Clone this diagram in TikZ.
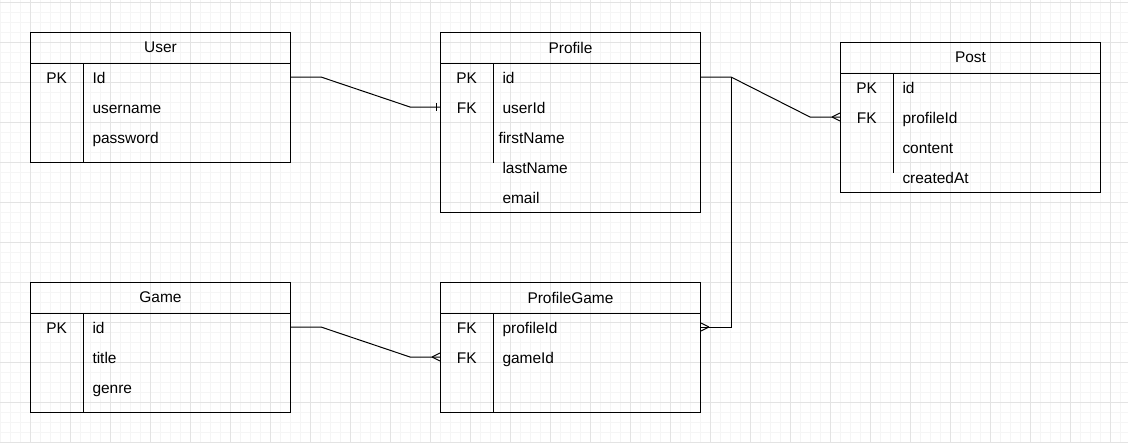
\documentclass[tikz,border=0pt]{standalone}
\usepackage{fontspec}
\setmainfont{Liberation Sans}
\usetikzlibrary{positioning}
\begin{document}
\begin{tikzpicture}[x=0.75pt, y=-0.75pt, line width=0.75pt,
    tbl/.style = {draw, minimum width=195pt, inner sep=0pt, anchor=north west},
    head/.style = {minimum width=195pt, minimum height=22.5pt, inner sep=0pt, anchor=north west, font=\fontsize{11.6}{14}\selectfont},
    fld/.style = {anchor=west, inner sep=0pt, text height=11pt, text depth=2pt, font=\fontsize{11.6}{14}\selectfont},
    key/.style = {fld, anchor=center},
    minor/.style = {draw=black!4, line width=0.75pt},
    major/.style = {draw=black!11, line width=0.75pt},
    crow/.pic = {\draw (-8,0) -- (0,-4) (-8,0) -- (0,4);}]
    \useasboundingbox (0,0) rectangle (1128,443);
    % background grid
    \foreach \gx in {0,10,...,1120} \draw[minor] (\gx,0) -- (\gx,443);
    \foreach \gy in {2,12,...,442} \draw[minor] (0,\gy) -- (1128,\gy);
    \foreach \gx in {30,70,...,1110} \draw[major] (\gx,0) -- (\gx,443);
    \foreach \gy in {2,42,...,442} \draw[major] (0,\gy) -- (1128,\gy);

    % tables
    \node[tbl, minimum height=97.5pt] (user) at (30,32) {};
    \node[tbl, minimum height=135pt] (profile) at (440,32) {};
    \node[tbl, minimum height=112.5pt] (post) at (840,42) {};
    \node[tbl, minimum height=97.5pt] (game) at (30,282) {};
    \node[tbl, minimum height=97.5pt] (pg) at (440,282) {};

    \foreach \t/\n in {user/User, profile/Profile, post/Post, game/Game, pg/ProfileGame}{
        \node[head] (\t-h) at (\t.north west) {\n};
        \draw (\t-h.south west) -- (\t-h.south east);
        \draw ([xshift=39.75pt]\t-h.south west) -- ++(0,100);
    }

    % fields
    \foreach \k/\f [count=\i] in {PK/Id, /username, /password}{
        \node[key] (user-k\i) at ([shift={(26.7,15+30*\i)}]user.north west) {\k};
        \node[fld] (user-f\i) at ([shift={(62,15+30*\i)}]user.north west) {\f};
    }
    \foreach \k/\f/\s [count=\i] in {PK/id/0, FK/userId/0, /firstName/-4, /lastName/0, /email/0}{
        \node[key] (profile-k\i) at ([shift={(26.7,15+30*\i)}]profile.north west) {\k};
        \node[fld] (profile-f\i) at ([shift={(62+\s,15+30*\i)}]profile.north west) {\f};
    }
    \foreach \k/\f [count=\i] in {PK/id, FK/profileId, /content, /createdAt}{
        \node[key] (post-k\i) at ([shift={(26.7,15+30*\i)}]post.north west) {\k};
        \node[fld] (post-f\i) at ([shift={(62,15+30*\i)}]post.north west) {\f};
    }
    \foreach \k/\f [count=\i] in {PK/id, /title, /genre}{
        \node[key] (game-k\i) at ([shift={(26.7,15+30*\i)}]game.north west) {\k};
        \node[fld] (game-f\i) at ([shift={(62,15+30*\i)}]game.north west) {\f};
    }
    \foreach \k/\f [count=\i] in {FK/profileId, FK/gameId}{
        \node[key] (pg-k\i) at ([shift={(26.7,15+30*\i)}]pg.north west) {\k};
        \node[fld] (pg-f\i) at ([shift={(62,15+30*\i)}]pg.north west) {\f};
    }

    % relations
    \draw (user.east |- user-f1.west) -- ++(30,0)
        -- ([xshift=-22.5pt]profile.west |- profile-f2.west) -- (profile.west |- profile-f2.west);
    \draw ([xshift=-3pt]profile.west |- profile-f2.west) ++(0,-4) -- ++(0,8);
    \draw (profile.east |- profile-f1.west) -- ++(30,0) coordinate (pj)
        -- ([xshift=-22.5pt]post.west |- post-f2.west) -- (post.west |- post-f2.west);
    \pic at (post.west |- post-f2.west) {crow};
    \draw (pj) |- (pg.east |- pg-f1.west);
    \pic[rotate=180] at (pg.east |- pg-f1.west) {crow};
    \draw (game.east |- game-f1.west) -- ++(30,0)
        -- ([xshift=-22.5pt]pg.west |- pg-f2.west) -- (pg.west |- pg-f2.west);
    \pic at (pg.west |- pg-f2.west) {crow};
\end{tikzpicture}
\end{document}
